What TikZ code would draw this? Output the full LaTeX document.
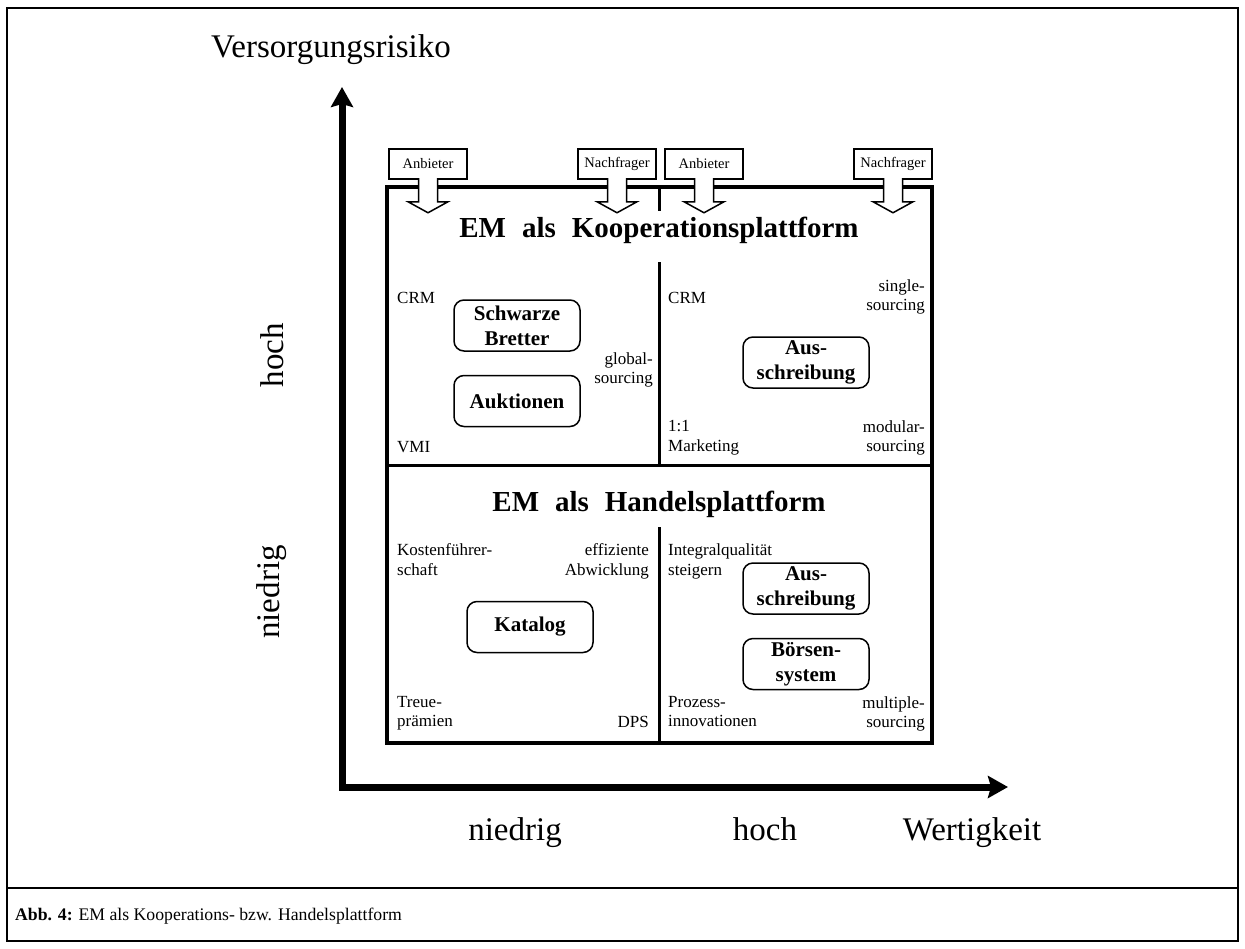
\documentclass[tikz,border=0pt]{standalone}
\usepackage{fontspec}
\setmainfont{Liberation Serif}
\usetikzlibrary{arrows.meta}
\tikzset{
  lbl/.style={inner sep=0pt, font=\fontsize{17}{19.5}\selectfont},
  lblL/.style={lbl, align=left, anchor=north west},
  lblR/.style={lbl, align=right, anchor=north east},
  optbox/.style={draw, line width=1.5pt, rounded corners=10pt, minimum width=126pt,
    minimum height=51pt, inner sep=0pt, align=center,
    font=\bfseries\fontsize{21}{25}\selectfont},
  tab/.style={draw, line width=1.5pt, fill=white, minimum width=78pt,
    minimum height=30pt, inner sep=0pt, font=\fontsize{14.5}{16}\selectfont},
  blockarrow/.style={draw, fill=white, line width=1.5pt},
  axis/.style={line width=7pt,
    {Stealth[length=20pt,width=22pt,inset=3pt]}-{Stealth[length=20pt,width=22pt,inset=3pt]}},
  axislbl/.style={inner sep=0pt, font=\fontsize{33}{38}\selectfont},
  platform/.style={inner sep=0pt, anchor=base, font=\bfseries\fontsize{29}{32}\selectfont},
}
\begin{document}
\begin{tikzpicture}[x=1pt, y=-1pt]
    \useasboundingbox (0,0) rectangle (1245,948);
    % Rahmen und Bildunterschrift
    \draw[line width=2.5pt] (7,8) rectangle (1238,941);
    \draw[line width=2.5pt] (7,888) -- (1238,888);
    \node[anchor=base west, inner sep=0pt, font=\fontsize{17.7}{20}\selectfont] (caption)
        at (15,920) {\textbf{Abb. 4:} EM als Kooperations- bzw. Handelsplattform};

    % Achsen
    \coordinate (origin) at (342,787);
    \coordinate (ytip) at (342,87);
    \coordinate (xtip) at (1008,787);
    \draw[axis] (ytip) -- (origin) -- (xtip);
    \node[axislbl, anchor=base] (ylabel) at (331,57) {Versorgungsrisiko};
    \node[axislbl, anchor=base] (xlow) at (515,840) {niedrig};
    \node[axislbl, anchor=base] (xhigh) at (765,840) {hoch};
    \node[axislbl, anchor=base] (xlabel) at (972,840) {Wertigkeit};
    \node[axislbl, rotate=90] (yhigh) at (272,355) {hoch};
    \node[axislbl, rotate=90] (ylow) at (272,592) {niedrig};

    % Matrix
    \draw[line width=3.5pt] (387,187) rectangle (932,743);
    \draw[line width=3pt] (387,465) -- (932,465);
    \draw[line width=3pt] (659,187) -- (659,211) (659,262) -- (659,465) (659,527) -- (659,743);
    \node[platform] (koop) at (659,237) {EM\hspace{.3em} als\hspace{.3em} Kooperationsplattform};
    \node[platform] (handel) at (659,511) {EM\hspace{.3em} als\hspace{.3em} Handelsplattform};

    % Anbieter / Nachfrager
    \foreach \name/\x/\txt in {tabA/428/Anbieter, tabB/617/Nachfrager,
                               tabC/704/Anbieter, tabD/893/Nachfrager}{
        \node[tab] (\name) at (\x,164) {\txt};
        \draw[blockarrow, shift={(\name.south)}] (-9.5,-1.6) -- (-9.5,22) -- (-20,22)
            -- (0,33) -- (20,22) -- (9.5,22) -- (9.5,-1.6);
    }

    % Instrumente
    \node[optbox] (brett) at (517,325.5) {Schwarze\\Bretter};
    \node[optbox] (auktion) at (517,401) {Auktionen};
    \node[optbox] (aus1) at (806,362.5) {Aus-\\schreibung};
    \node[optbox] (katalog) at (530,627) {Katalog};
    \node[optbox] (aus2) at (806,588.5) {Aus-\\schreibung};
    \node[optbox] (boerse) at (806,664) {Börsen-\\system};

    % Strategien in den Ecken
    \node[lblL] (crm1) at (397,292) {CRM};
    \node[lblR] (global) at (653,352) {global-\\sourcing};
    \node[lblL] (vmi) at (397,441) {VMI};
    \node[lblL] (crm2) at (668,292) {CRM};
    \node[lblR] (single) at (925,279) {single-\\sourcing};
    \node[lblL] (marketing) at (668,420.5) {1:1\\Marketing};
    \node[lblR] (modular) at (925,420) {modular-\\sourcing};
    \node[lblL] (kosten) at (397,543.5) {Kostenführer-\\schaft};
    \node[lblR] (effizient) at (649,543.5) {effiziente\\Abwicklung};
    \node[lblL] (treue) at (397,696) {Treue-\\prämien};
    \node[lblR] (dps) at (649,716) {DPS};
    \node[lblL] (integral) at (668,543.5) {Integralqualität\\steigern};
    \node[lblL] (prozess) at (668,696) {Prozess-\\innovationen};
    \node[lblR] (multiple) at (925,696) {multiple-\\sourcing};
\end{tikzpicture}
\end{document}
